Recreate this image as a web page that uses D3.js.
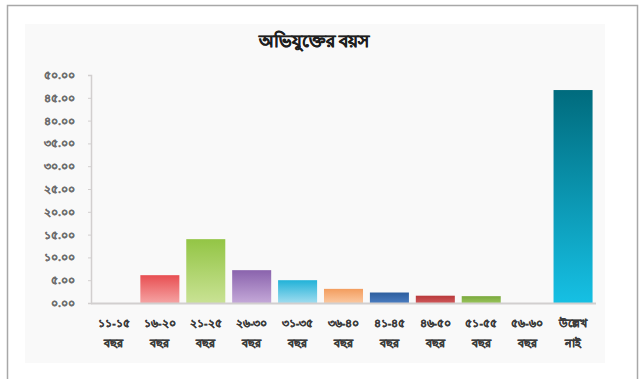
<!DOCTYPE html>
<html>
<head>
<meta charset="utf-8">
<script src="https://cdn.jsdelivr.net/npm/d3@7"></script>
<style>
  html, body { margin: 0; padding: 0; background: #ffffff; }
  svg { display: block; }
  text { font-family: "Noto Sans", "Lato", sans-serif; }
</style>
</head>
<body>
<svg id="chart" width="643" height="379"></svg>
<script>
// Age groups of the accused, with the share recorded for each group
const categories = [
  ["১১-১৫", "বছর"], ["১৬-২০", "বছর"], ["২১-২৫", "বছর"], ["২৬-৩০", "বছর"],
  ["৩১-৩৫", "বছর"], ["৩৬-৪০", "বছর"], ["৪১-৪৫", "বছর"], ["৪৬-৫০", "বছর"],
  ["৫১-৫৫", "বছর"], ["৫৬-৬০", "বছর"], ["উল্লেখ", "নাই"]
];
const values = [0, 6.1, 14.0, 7.2, 5.0, 3.1, 2.3, 1.6, 1.5, 0, 46.7];
const yTicks = [0, 5, 10, 15, 20, 25, 30, 35, 40, 45, 50];
// Top / bottom colour of each bar's vertical gradient
const barColors = [
  ["#4f81bd", "#9fbde0"],
  ["#e84f52", "#f5a3a3"],
  ["#93c545", "#c9e294"],
  ["#8a63ad", "#c4a8d8"],
  ["#22b2d8", "#9fdcef"],
  ["#f39d5e", "#fbc8a0"],
  ["#2d5e9e", "#4a7cc0"],
  ["#b8393b", "#d0585a"],
  ["#7aa83d", "#98c45a"],
  ["#cccccc", "#eeeeee"],
  ["#006b7d", "#16c0e4"]
];
const title = "অভিযুক্তের বয়স";

const bnDigits = "০১২৩৪৫৬৭৮৯";
const toBn = s => String(s).replace(/[0-9]/g, d => bnDigits[+d]);

const svg = d3.select("#chart");

// outer frame (open at the bottom)
svg.append("path")
  .attr("d", "M7.5,379 V5.5 H637.5 V379")
  .attr("fill", "none")
  .attr("stroke", "#a8a8a8")
  .attr("stroke-width", 1.5);

// chart area
svg.append("rect")
  .attr("x", 25).attr("y", 24).attr("width", 580).attr("height", 339)
  .attr("fill", "#f9f9f9");

svg.append("text")
  .attr("x", 314).attr("y", 47)
  .attr("text-anchor", "middle")
  .attr("font-size", 17).attr("font-weight", "bold")
  .attr("fill", "#1e1e1e")
  .attr("stroke", "#1e1e1e").attr("stroke-width", 0.5)
  .text(title);

const x = d3.scaleBand()
  .domain(d3.range(categories.length))
  .range([91, 596])
  .paddingInner(0.15)
  .paddingOuter(0.075);

const y = d3.scaleLinear().domain([0, 50]).range([303, 75]);

// gradients
const defs = svg.append("defs");
barColors.forEach((c, i) => {
  const g = defs.append("linearGradient")
    .attr("id", "grad" + i)
    .attr("x1", 0).attr("y1", 0).attr("x2", 0).attr("y2", 1);
  g.append("stop").attr("offset", "0%").attr("stop-color", c[0]);
  g.append("stop").attr("offset", "100%").attr("stop-color", c[1]);
});

// y axis
const yAxis = svg.append("g")
  .attr("transform", "translate(91,0)")
  .call(d3.axisLeft(y).tickValues(yTicks).tickSize(3).tickPadding(13)
    .tickFormat(d => toBn(d3.format(".2f")(d))));
yAxis.select(".domain").attr("stroke", "#d2cfcf").attr("stroke-width", 1.5);
yAxis.selectAll(".tick line").attr("stroke", "#d2cfcf");
yAxis.selectAll("text")
  .attr("font-size", 11).attr("font-weight", "bold").attr("fill", "#6e6e6e")
  .attr("stroke", "#6e6e6e").attr("stroke-width", 0.35);

// bars
svg.append("g").selectAll("rect")
  .data(values)
  .join("rect")
  .attr("x", (d, i) => x(i))
  .attr("width", x.bandwidth())
  .attr("y", d => y(d))
  .attr("height", d => y(0) - y(d))
  .attr("fill", (d, i) => `url(#grad${i})`);

// x axis baseline
svg.append("line")
  .attr("x1", 91).attr("x2", 596)
  .attr("y1", y(0) + 0.5).attr("y2", y(0) + 0.5)
  .attr("stroke", "#d2cfcf").attr("stroke-width", 2);

// category labels
const lbl = svg.append("g").selectAll("text")
  .data(categories)
  .join("text")
  .attr("text-anchor", "middle")
  .attr("font-size", 11).attr("font-weight", "bold")
  .attr("fill", "#3c3c3c")
  .attr("stroke", "#3c3c3c").attr("stroke-width", 0.35);
lbl.append("tspan")
  .attr("x", (d, i) => x(i) + x.bandwidth() / 2)
  .attr("y", 327)
  .text(d => d[0]);
lbl.append("tspan")
  .attr("x", (d, i) => x(i) + x.bandwidth() / 2)
  .attr("y", 347)
  .text(d => d[1]);
</script>
</body>
</html>
